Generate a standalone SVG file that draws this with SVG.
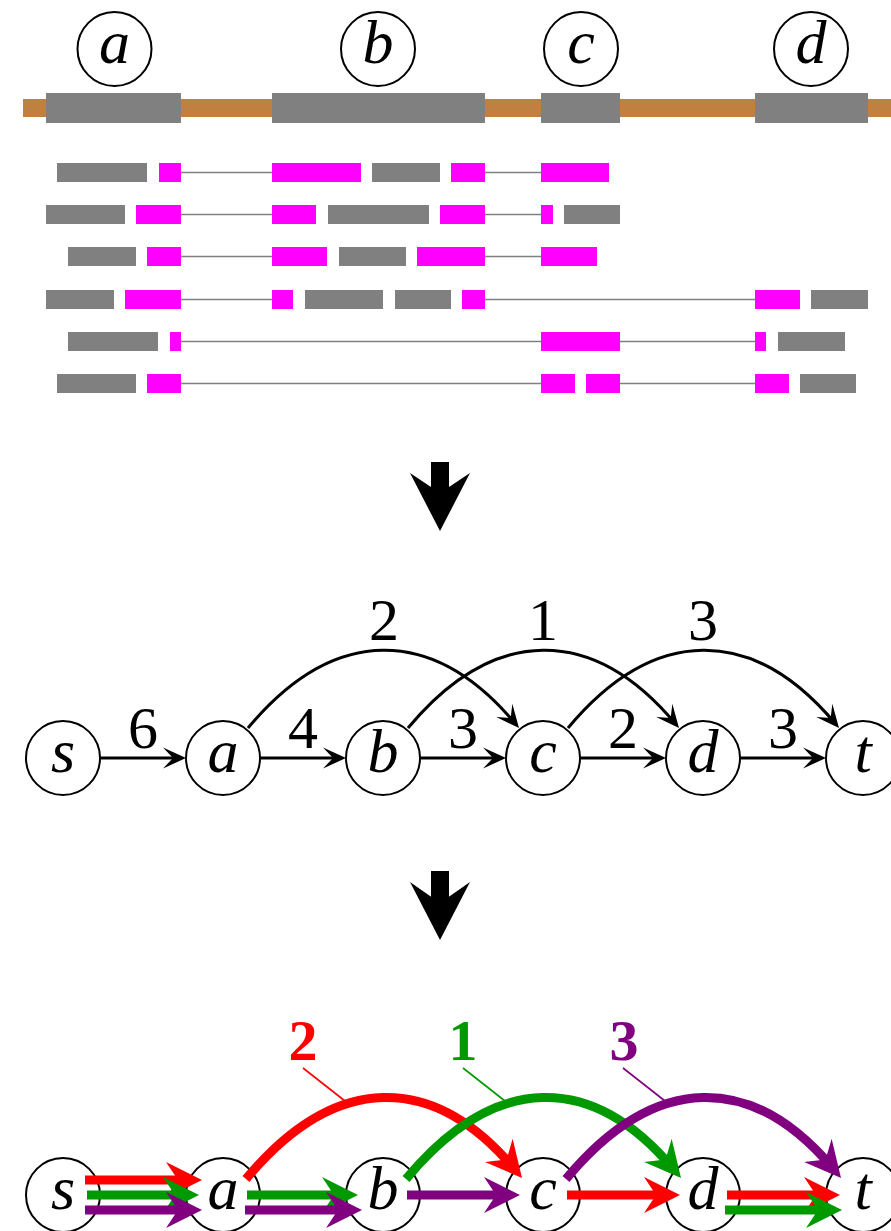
<svg xmlns="http://www.w3.org/2000/svg" width="891" height="1231" viewBox="0 0 891 1231">
<style>
.node{fill:#fff;stroke:#000;stroke-width:2}
.lbl{font-family:"Liberation Serif","Times New Roman",serif;font-style:italic;font-size:62px;text-anchor:middle;fill:#000}
.num{font-family:"Liberation Serif","Times New Roman",serif;font-size:60px;text-anchor:middle;fill:#000}
.bnum{font-family:"Liberation Serif","Times New Roman",serif;font-weight:bold;font-size:58px;text-anchor:middle}
.gray{fill:#808080}
.mag{fill:#ff00ff}
.intr{stroke:#808080;stroke-width:1.6;fill:none}
.edge{stroke:#000;stroke-width:3;fill:none;marker-end:url(#arr)}
.thick{stroke-width:9;fill:none}
.red{stroke:#ff0000}
.grn{stroke:#009900}
.pur{stroke:#800080}
.lead{stroke-width:1.6;fill:none}
</style>
<defs>
<marker id="arr" markerUnits="userSpaceOnUse" viewBox="0 -11 24 22" markerWidth="24" markerHeight="22" refX="18" refY="0" orient="auto" overflow="visible">
<path d="M0,-10.5 L23,0 L0,10.5 L10,0 Z" fill="#000"/>
</marker>
<marker id="arrR" markerUnits="userSpaceOnUse" viewBox="0 -19 37 38" markerWidth="37" markerHeight="38" refX="24" refY="0" orient="auto" overflow="visible">
<path d="M0,-18 L36,0 L0,18 L12,0 Z" fill="#ff0000"/>
</marker>
<marker id="arrG" markerUnits="userSpaceOnUse" viewBox="0 -19 37 38" markerWidth="37" markerHeight="38" refX="24" refY="0" orient="auto" overflow="visible">
<path d="M0,-18 L36,0 L0,18 L12,0 Z" fill="#009900"/>
</marker>
<marker id="arrP" markerUnits="userSpaceOnUse" viewBox="0 -19 37 38" markerWidth="37" markerHeight="38" refX="24" refY="0" orient="auto" overflow="visible">
<path d="M0,-18 L36,0 L0,18 L12,0 Z" fill="#800080"/>
</marker>
</defs>

<!-- Top: gene -->
<g id="gene">
<rect x="23" y="99" width="868" height="18" fill="#bf8040"/>
<rect class="gray" x="46" y="93" width="135" height="30"/>
<rect class="gray" x="272" y="93" width="213" height="30"/>
<rect class="gray" x="541" y="93" width="79" height="30"/>
<rect class="gray" x="755" y="93" width="113" height="30"/>
</g>
<g id="exon-a"><circle class="node" cx="114.5" cy="49" r="37"/><text class="lbl" x="114.5" y="63">a</text></g>
<g id="exon-b"><circle class="node" cx="378" cy="49" r="37"/><text class="lbl" x="378" y="63">b</text></g>
<g id="exon-c"><circle class="node" cx="581" cy="49" r="37"/><text class="lbl" x="581" y="63">c</text></g>
<g id="exon-d"><circle class="node" cx="811" cy="49" r="37"/><text class="lbl" x="811" y="63">d</text></g>

<!-- Reads -->
<g id="reads">
<g id="read1">
<line class="intr" x1="181" y1="172.5" x2="272" y2="172.5"/><line class="intr" x1="485" y1="172.5" x2="541" y2="172.5"/>
<rect class="gray" x="57" y="163" width="90" height="19"/>
<rect class="mag" x="159" y="163" width="22" height="19"/>
<rect class="mag" x="272" y="163" width="89" height="19"/>
<rect class="gray" x="372" y="163" width="68" height="19"/>
<rect class="mag" x="451" y="163" width="34" height="19"/>
<rect class="mag" x="541" y="163" width="68" height="19"/>
</g>
<g id="read2">
<line class="intr" x1="181" y1="214.5" x2="272" y2="214.5"/><line class="intr" x1="485" y1="214.5" x2="541" y2="214.5"/>
<rect class="gray" x="46" y="205" width="79" height="19"/>
<rect class="mag" x="136" y="205" width="45" height="19"/>
<rect class="mag" x="272" y="205" width="44" height="19"/>
<rect class="gray" x="328" y="205" width="101" height="19"/>
<rect class="mag" x="440" y="205" width="45" height="19"/>
<rect class="mag" x="541" y="205" width="12" height="19"/>
<rect class="gray" x="564" y="205" width="56" height="19"/>
</g>
<g id="read3">
<line class="intr" x1="181" y1="256.5" x2="272" y2="256.5"/><line class="intr" x1="485" y1="256.5" x2="541" y2="256.5"/>
<rect class="gray" x="68" y="247" width="68" height="19"/>
<rect class="mag" x="147" y="247" width="34" height="19"/>
<rect class="mag" x="272" y="247" width="55" height="19"/>
<rect class="gray" x="339" y="247" width="67" height="19"/>
<rect class="mag" x="417" y="247" width="68" height="19"/>
<rect class="mag" x="541" y="247" width="56" height="19"/>
</g>
<g id="read4">
<line class="intr" x1="181" y1="299.5" x2="272" y2="299.5"/><line class="intr" x1="485" y1="299.5" x2="755" y2="299.5"/>
<rect class="gray" x="46" y="290" width="68" height="19"/>
<rect class="mag" x="125" y="290" width="56" height="19"/>
<rect class="mag" x="272" y="290" width="21" height="19"/>
<rect class="gray" x="305" y="290" width="78" height="19"/>
<rect class="gray" x="395" y="290" width="56" height="19"/>
<rect class="mag" x="462" y="290" width="23" height="19"/>
<rect class="mag" x="755" y="290" width="45" height="19"/>
<rect class="gray" x="811" y="290" width="57" height="19"/>
</g>
<g id="read5">
<line class="intr" x1="181" y1="341.5" x2="541" y2="341.5"/><line class="intr" x1="620" y1="341.5" x2="755" y2="341.5"/>
<rect class="gray" x="68" y="332" width="90" height="19"/>
<rect class="mag" x="170" y="332" width="11" height="19"/>
<rect class="mag" x="541" y="332" width="79" height="19"/>
<rect class="mag" x="755" y="332" width="11" height="19"/>
<rect class="gray" x="778" y="332" width="67" height="19"/>
</g>
<g id="read6">
<line class="intr" x1="181" y1="383.5" x2="541" y2="383.5"/><line class="intr" x1="620" y1="383.5" x2="755" y2="383.5"/>
<rect class="gray" x="57" y="374" width="79" height="19"/>
<rect class="mag" x="147" y="374" width="34" height="19"/>
<rect class="mag" x="541" y="374" width="34" height="19"/>
<rect class="mag" x="586" y="374" width="34" height="19"/>
<rect class="mag" x="755" y="374" width="34" height="19"/>
<rect class="gray" x="800" y="374" width="56" height="19"/>
</g>
</g>

<!-- Down arrows -->
<g id="down1">
<rect x="431" y="462" width="18" height="34" fill="#000"/>
<path d="M410,473 L440,493 L470,473 L440,531 Z" fill="#000"/>
</g>
<g id="down2">
<rect x="431" y="871" width="18" height="34" fill="#000"/>
<path d="M410,882 L440,903 L470,882 L440,940 Z" fill="#000"/>
</g>

<!-- Middle graph nodes -->
<g id="m-s"><circle class="node" cx="63" cy="758" r="37"/><text class="lbl" x="63" y="772">s</text></g>
<g id="m-a"><circle class="node" cx="223" cy="758" r="37"/><text class="lbl" x="223" y="772">a</text></g>
<g id="m-b"><circle class="node" cx="383" cy="758" r="37"/><text class="lbl" x="383" y="772">b</text></g>
<g id="m-c"><circle class="node" cx="543" cy="758" r="37"/><text class="lbl" x="543" y="772">c</text></g>
<g id="m-d"><circle class="node" cx="703" cy="758" r="37"/><text class="lbl" x="703" y="772">d</text></g>
<g id="m-t"><circle class="node" cx="863" cy="758" r="37"/><text class="lbl" x="863" y="772">t</text></g>

<g id="m-edges">
<path class="edge" d="M100,758 H181"/>
<path class="edge" d="M260,758 H341"/>
<path class="edge" d="M420,758 H501"/>
<path class="edge" d="M580,758 H661"/>
<path class="edge" d="M740,758 H821"/>
<path class="edge" d="M248,728 C334,625 433,625 515.8,724.2"/>
<path class="edge" d="M408,728 C494,625 593,625 675.8,724.2"/>
<path class="edge" d="M568,728 C654,625 753,625 835.8,724.2"/>
<text class="num" x="143" y="748">6</text>
<text class="num" x="303" y="748">4</text>
<text class="num" x="463" y="748">3</text>
<text class="num" x="623" y="748">2</text>
<text class="num" x="783" y="748">3</text>
<text class="num" x="384" y="640">2</text>
<text class="num" x="543" y="640">1</text>
<text class="num" x="703" y="640">3</text>
</g>

<!-- Bottom graph nodes -->
<g id="b-s"><circle class="node" cx="63" cy="1195" r="37"/><text class="lbl" x="63" y="1209">s</text></g>
<g id="b-a"><circle class="node" cx="223" cy="1195" r="37"/><text class="lbl" x="223" y="1209">a</text></g>
<g id="b-b"><circle class="node" cx="383" cy="1195" r="37"/><text class="lbl" x="383" y="1209">b</text></g>
<g id="b-c"><circle class="node" cx="543" cy="1195" r="37"/><text class="lbl" x="543" y="1209">c</text></g>
<g id="b-d"><circle class="node" cx="703" cy="1195" r="37"/><text class="lbl" x="703" y="1209">d</text></g>
<g id="b-t"><circle class="node" cx="863" cy="1195" r="37"/><text class="lbl" x="863" y="1209">t</text></g>

<g id="b-edges">
<path class="thick red" d="M85,1180 H190" marker-end="url(#arrR)"/>
<path class="thick grn" d="M87,1195 H187" marker-end="url(#arrG)"/>
<path class="thick pur" d="M85,1210 H190" marker-end="url(#arrP)"/>
<path class="thick grn" d="M247,1195 H346" marker-end="url(#arrG)"/>
<path class="thick pur" d="M245,1210 H350" marker-end="url(#arrP)"/>
<path class="thick pur" d="M407,1195 H508" marker-end="url(#arrP)"/>
<path class="thick red" d="M567,1195 H668" marker-end="url(#arrR)"/>
<path class="thick red" d="M727,1195 H828" marker-end="url(#arrR)"/>
<path class="thick grn" d="M725,1210 H830" marker-end="url(#arrG)"/>
<path class="thick red" d="M246,1179 C335,1072 433,1072 514.3,1168.8" marker-end="url(#arrR)"/>
<path class="thick grn" d="M406,1179 C495,1072 592,1072 673.3,1168.8" marker-end="url(#arrG)"/>
<path class="thick pur" d="M566,1179 C655,1072 752,1072 833.3,1168.8" marker-end="url(#arrP)"/>
<line class="lead red" x1="303" y1="1068" x2="345" y2="1101"/>
<line class="lead grn" x1="463" y1="1068" x2="505" y2="1101"/>
<line class="lead pur" x1="623" y1="1068" x2="665" y2="1101"/>
<text class="bnum" x="303" y="1060" fill="#ff0000">2</text>
<text class="bnum" x="463" y="1060" fill="#009900">1</text>
<text class="bnum" x="624" y="1060" fill="#800080">3</text>
</g>
</svg>
